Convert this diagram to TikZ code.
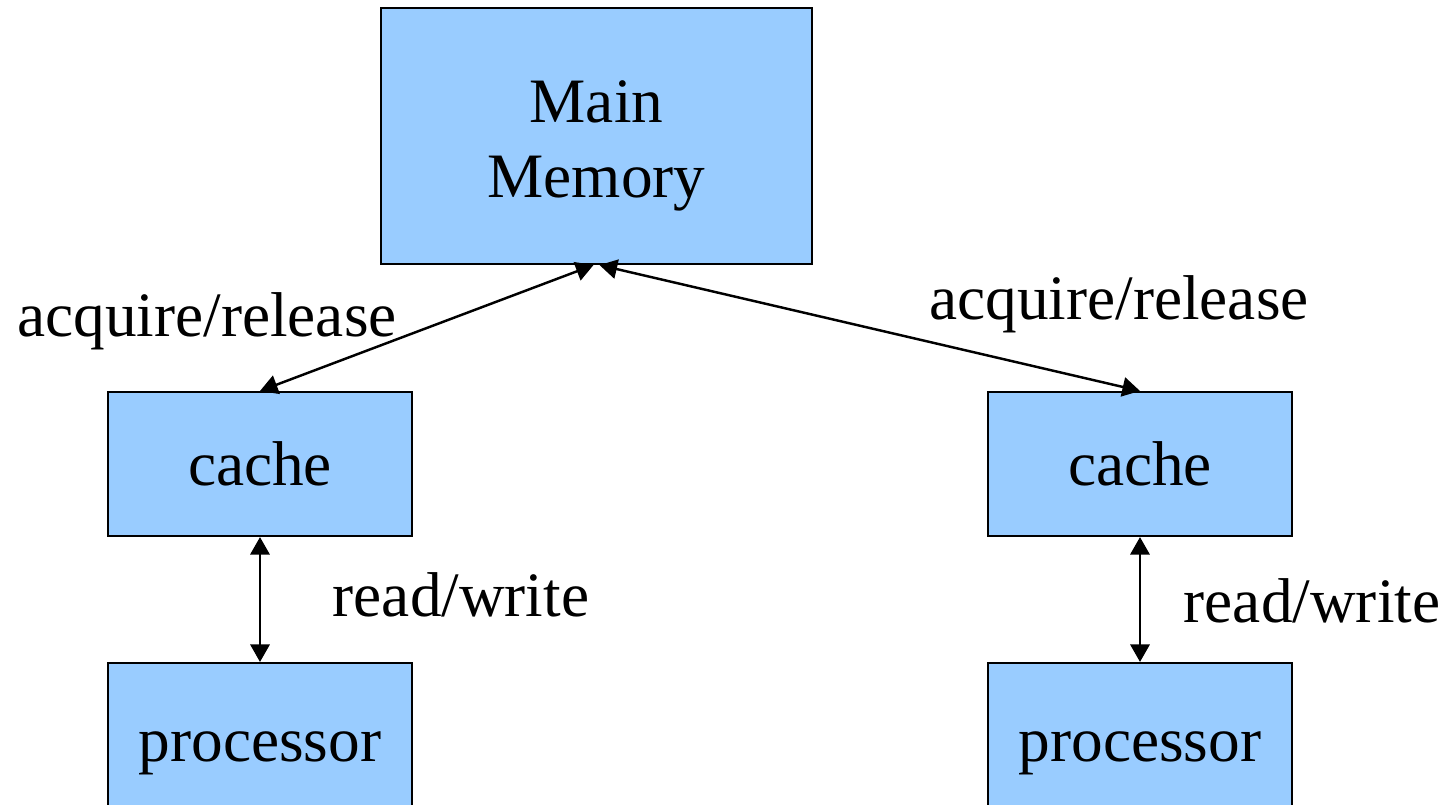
\documentclass[tikz,border=0pt]{standalone}
\usepackage{fontspec}
\setmainfont{Liberation Serif}
\usetikzlibrary{arrows.meta}
\definecolor{boxblue}{HTML}{99CCFF}
\tikzset{
  unit/.style={draw, line width=0.6pt, fill=boxblue, inner sep=0pt,
    font=\fontsize{18}{21.3}\selectfont, align=center},
  link/.style={line width=0.7pt, {Triangle[length=5pt,width=5.5pt]}-{Triangle[length=5pt,width=5.5pt]}},
  lbl/.style={anchor=base, inner sep=0pt, font=\fontsize{18}{21.3}\selectfont}
}
\begin{document}
\begin{tikzpicture}[]
		\useasboundingbox (0,0) rectangle (14.54,8.04);

		\node[unit, minimum width=4.31cm, minimum height=2.56cm] (mem) at (5.965,6.68) {};
		\node[lbl, anchor=center, align=center] (memtxt) at ([yshift=-0.10cm]mem.center) {Main\\Memory};

		\node[unit, minimum width=3.04cm, minimum height=1.44cm] (lcache) at (2.60,3.40) {cache};
		\node[unit, minimum width=3.04cm, minimum height=1.44cm] (rcache) at (11.40,3.40) {cache};

		\node[unit, minimum width=3.04cm, minimum height=1.80cm] (lproc) at (2.60,0.51) {processor};
		\node[unit, minimum width=3.04cm, minimum height=1.80cm] (rproc) at (11.40,0.51) {processor};

		\draw [link]([xshift=-0.03cm]mem.south) -- (lcache.north);
		\draw [link]([xshift=0.03cm]mem.south) -- (rcache.north);
		\draw [link](lcache.south) -- (lproc.north);
		\draw [link](rcache.south) -- (rproc.north);

		\node[lbl] (lacq) at (2.07,4.68) {acquire/release};
		\node[lbl] (racq) at (11.19,4.85) {acquire/release};
		\node[lbl] (lrw) at (4.61,1.88) {read/write};
		\node[lbl] (rrw) at (13.12,1.82) {read/write};
	\end{tikzpicture}
\end{document}
